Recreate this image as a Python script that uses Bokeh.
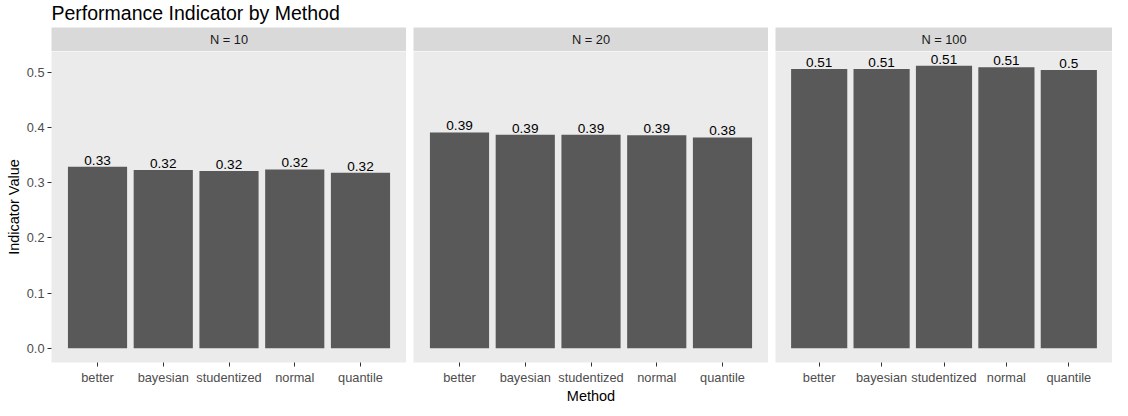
from bokeh.plotting import figure
from bokeh.models import (FactorRange, Range1d, FixedTicker, Label,
                          ColumnDataSource, NumeralTickFormatter)
from bokeh.layouts import row, column
from bokeh.core.properties import value
from bokeh.embed import file_html
from bokeh.resources import INLINE

# ---- data ----
methods = ["better", "bayesian", "studentized", "normal", "quantile"]
panel_titles = ["N = 10", "N = 20", "N = 100"]
values_n10 = [0.329, 0.323, 0.321, 0.324, 0.318]
values_n20 = [0.391, 0.387, 0.387, 0.386, 0.382]
values_n100 = [0.506, 0.506, 0.512, 0.509, 0.504]
y_ticks = [0.0, 0.1, 0.2, 0.3, 0.4, 0.5]
title_text = "Performance Indicator by Method"
x_title = "Method"
y_title = "Indicator Value"

FONT = "Liberation Sans"
series = [values_n10, values_n20, values_n100]

ymax = max(max(s) for s in series)
lo = -0.05 * ymax
hi = 1.05 * ymax

TITLE_H = 27
STRIP_H = 24
PANEL_H = 311
BOTTOM_H = 38
frame_widths = [355, 355, 337]
left_borders = [51, 7, 7]
TOTAL_W = sum(frame_widths) + sum(left_borders)


def bare(fig):
    fig.outline_line_color = None
    fig.xgrid.visible = False
    fig.ygrid.visible = False
    fig.border_fill_color = "white"
    return fig


# ---- title ----
title_fig = bare(figure(frame_width=TOTAL_W, frame_height=TITLE_H, min_border=0,
                        x_range=Range1d(0, 1), y_range=Range1d(0, 1),
                        x_axis_location=None, y_axis_location=None,
                        toolbar_location=None, output_backend="svg"))
title_fig.background_fill_color = "white"
title_fig.add_layout(Label(x=left_borders[0], x_units="screen", y=4, y_units="screen",
                           text=title_text, text_align="left", text_baseline="bottom",
                           text_font=FONT, text_font_size="19.5px", text_color="black"))

strips = []
panels = []
for i, (ptitle, vals) in enumerate(zip(panel_titles, series)):
    xr = FactorRange(*methods, range_padding=0.2, range_padding_units="absolute")

    # ---- strip ----
    s = bare(figure(x_range=xr, y_range=Range1d(0, 1),
                    frame_width=frame_widths[i], frame_height=STRIP_H,
                    min_border_left=left_borders[i], min_border_right=0,
                    min_border_top=0, min_border_bottom=0,
                    x_axis_location=None, y_axis_location=None,
                    toolbar_location=None, output_backend="svg"))
    s.background_fill_color = "#D9D9D9"
    s.add_layout(Label(x=frame_widths[i] / 2, x_units="screen", y=0.5,
                       text=ptitle, text_align="center", text_baseline="middle",
                       text_font=FONT, text_font_size="12.8px", text_color="#1A1A1A"))
    strips.append(s)

    # ---- panel ----
    p = bare(figure(x_range=xr, y_range=Range1d(lo, hi),
                    frame_width=frame_widths[i], frame_height=PANEL_H,
                    min_border_left=left_borders[i], min_border_right=0,
                    min_border_top=0, min_border_bottom=BOTTOM_H,
                    y_axis_location="left" if i == 0 else None,
                    toolbar_location=None, output_backend="svg"))
    p.background_fill_color = "#EBEBEB"

    labels = [f"{round(v, 2):g}" for v in vals]
    src = ColumnDataSource(dict(method=methods, value=vals, label=labels))
    p.vbar(x="method", top="value", bottom=0, width=0.9, source=src,
           fill_color="#595959", line_color=None)
    p.text(x="method", y="value", text="label", source=src,
           text_font=value(FONT), text_font_size="13.6px", text_align="center",
           text_baseline="bottom", y_offset=-2, text_color="black")

    xa = p.xaxis[0]
    xa.axis_line_color = None
    xa.major_tick_line_color = "#333333"
    xa.major_tick_in = 0
    xa.major_tick_out = 4
    xa.major_label_standoff = 3
    xa.major_label_text_font = FONT
    xa.major_label_text_font_size = "12.8px"
    xa.major_label_text_color = "#4D4D4D"
    xa.minor_tick_line_color = None
    if i == 1:
        xa.axis_label = x_title
        xa.axis_label_text_font = FONT
        xa.axis_label_text_font_size = "14.5px"
        xa.axis_label_text_font_style = "normal"
        xa.axis_label_text_color = "black"
        xa.axis_label_standoff = 0

    if i == 0:
        ya = p.yaxis[0]
        ya.ticker = FixedTicker(ticks=y_ticks)
        ya.formatter = NumeralTickFormatter(format="0.0")
        ya.axis_line_color = None
        ya.major_tick_line_color = "#333333"
        ya.major_tick_in = 0
        ya.major_tick_out = 4
        ya.minor_tick_line_color = None
        ya.major_label_standoff = 3
        ya.major_label_text_font = FONT
        ya.major_label_text_font_size = "12.8px"
        ya.major_label_text_color = "#4D4D4D"
        ya.axis_label = y_title
        ya.axis_label_text_font = FONT
        ya.axis_label_text_font_size = "14.5px"
        ya.axis_label_text_font_style = "normal"
        ya.axis_label_text_color = "black"
        ya.axis_label_standoff = 2
    panels.append(p)

layout = column(title_fig, row(*strips), row(*panels))
open("out.html", "w").write(file_html(layout, INLINE))
